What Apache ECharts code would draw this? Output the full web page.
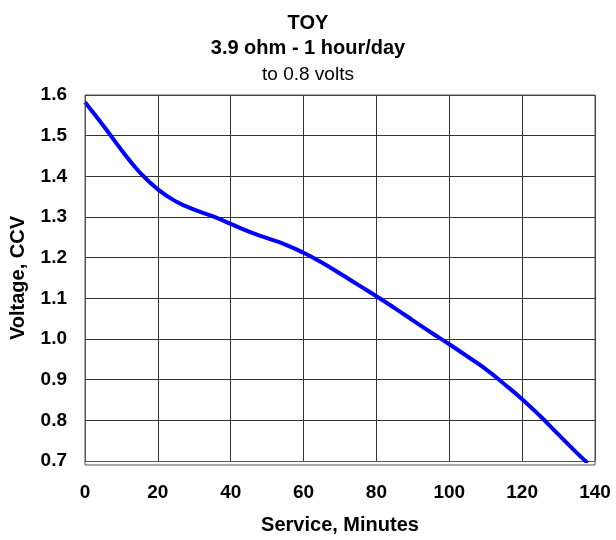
<!DOCTYPE html>
<html><head><meta charset="utf-8">
<script src="https://cdn.jsdelivr.net/npm/echarts@6/dist/echarts.min.js"></script>
<style>html,body{margin:0;padding:0;background:#fff}#c{width:616px;height:540px}</style>
</head><body><div id="c"></div>
<script>
var minutes = [0,5,10,15,20,25,30,35,40,45,50,55,60,65,70,75,80,85,90,95,100,105,110,115,120,125,130,135,138];
var voltage = [1.582,1.525,1.465,1.41,1.368,1.338,1.318,1.302,1.283,1.264,1.248,1.232,1.212,1.188,1.161,1.133,1.105,1.076,1.046,1.016,0.987,0.957,0.926,0.89,0.852,0.81,0.765,0.72,0.695];
var titles = ['TOY','3.9 ohm - 1 hour/day','to 0.8 volts'];
var xName = 'Service, Minutes';
var yName = 'Voltage, CCV';
var font = 'Liberation Sans, Arial, sans-serif';
var chart = echarts.init(document.getElementById('c'));
chart.setOption({
  animation:false,
  title:[
    {text:titles[0],left:'center',top:8,textStyle:{fontFamily:font,fontSize:20,fontWeight:'bold',color:'#000'}},
    {text:titles[1],left:'center',top:33,textStyle:{fontFamily:font,fontSize:20,fontWeight:'bold',color:'#000'}},
    {text:titles[2],left:'center',top:60,textStyle:{fontFamily:font,fontSize:19,fontWeight:'normal',color:'#000'}}
  ],
  grid:{left:85,right:21,top:95,bottom:75},
  xAxis:{type:'value',min:0,max:140,interval:20,
    name:xName,nameLocation:'middle',nameGap:54,
    nameTextStyle:{fontFamily:font,fontSize:20,fontWeight:'bold',color:'#000'},
    axisLine:{show:true,lineStyle:{color:'#555',width:1}},
    axisTick:{show:false},
    axisLabel:{fontFamily:font,fontSize:19,fontWeight:'bold',color:'#000',margin:22},
    splitLine:{show:true,lineStyle:{color:'#333',width:1}}},
  yAxis:{type:'value',min:0.7,max:1.6,interval:0.1,
    name:yName,nameLocation:'middle',nameGap:57,
    nameTextStyle:{fontFamily:font,fontSize:20,fontWeight:'bold',color:'#000'},
    axisLine:{show:true,lineStyle:{color:'#555',width:1}},
    axisTick:{show:false},
    axisLabel:{fontFamily:font,fontSize:19,fontWeight:'bold',color:'#000',margin:18,formatter:function(v){return v.toFixed(1);}},
    splitLine:{show:true,lineStyle:{color:'#333',width:1}}},
  series:[{type:'line',data:minutes.map(function(m,i){return [m,voltage[i]];}),
    smooth:true,symbol:'none',lineStyle:{color:'#0000ff',width:4},clip:true}]
});
chart.setOption({graphic:[{type:'rect',shape:{x:85,y:95,width:510,height:370},style:{fill:'none',stroke:'#555',lineWidth:1},silent:true,z:10}]});
</script></body></html>
